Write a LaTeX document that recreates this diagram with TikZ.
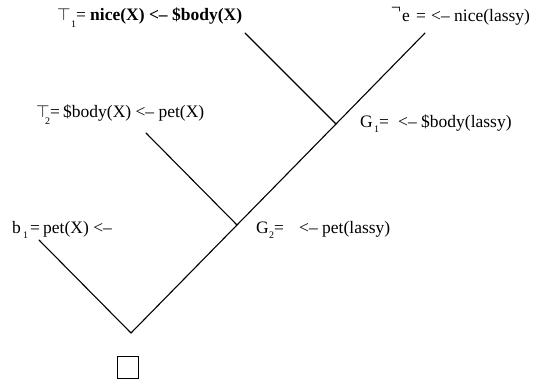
\documentclass[tikz,border=0pt]{standalone}
\usepackage{fontspec}
\setmainfont{Liberation Serif}
\begin{document}
\begin{tikzpicture}[x=1pt,y=-1pt,
  lbl/.style={anchor=base west, inner sep=0pt, font=\fontsize{17.5}{20}\selectfont},
  sub/.style={anchor=base west, inner sep=0pt, font=\fontsize{10}{11}\selectfont},
  edge/.style={line width=1.1pt, line cap=round}]
\useasboundingbox (0,0) rectangle (535,383);
% tree
\coordinate (top1) at (245,33);
\coordinate (top0) at (425,33);
\coordinate (g1) at (336,124);
\coordinate (top2) at (146,133);
\coordinate (g2) at (237,225);
\coordinate (top3) at (39,240);
\coordinate (root) at (131,333);
\draw[edge] (top0) -- (g1) -- (g2) -- (root);
\draw[edge] (top1) -- (g1);
\draw[edge] (top2) -- (g2);
\draw[edge] (top3) -- (root);
\node[draw, line width=0.8pt, minimum width=21pt, minimum height=22pt, inner sep=0pt] (empty) at (127.5,367) {};
% T1
\node[lbl] (t1sym) at (57,20) {$\top$};
\node[sub] (t1sub) at (71,27) {1};
\node[lbl] (t1eq) at (76,20) {=};
\node[lbl] (t1txt) at (90,20) {\bfseries nice(X) <-- \$body(X)};
% not e
\node[lbl] (nsym) at (391,13) {¬};
\node[lbl] (ne) at (402,21) {e};
\node[lbl] (neq) at (416,21) {=};
\node[lbl] (ntxt) at (431,21) {<-- nice(lassy)};
% T2
\node[lbl] (t2sym) at (36,117) {$\top$};
\node[sub] (t2sub) at (45,124) {2};
\node[lbl] (t2eq) at (50,117) {=};
\node[lbl] (t2txt) at (63,117) {\$body(X) <-- pet(X)};
% G1
\node[lbl] (g1sym) at (360,127) {G};
\node[sub] (g1sub) at (374,132) {1};
\node[lbl] (g1eq) at (379,127) {=};
\node[lbl] (g1txt) at (398,127) {<-- \$body(lassy)};
% b1
\node[lbl] (b1sym) at (12,233) {b};
\node[sub] (b1sub) at (23,238) {1};
\node[lbl] (b1eq) at (30,233) {=};
\node[lbl] (b1txt) at (43,233) {pet(X) <--};
% G2
\node[lbl] (g2sym) at (256,233) {G};
\node[sub] (g2sub) at (269,238) {2};
\node[lbl] (g2eq) at (274,233) {=};
\node[lbl] (g2txt) at (299,233) {<-- pet(lassy)};
\end{tikzpicture}
\end{document}
